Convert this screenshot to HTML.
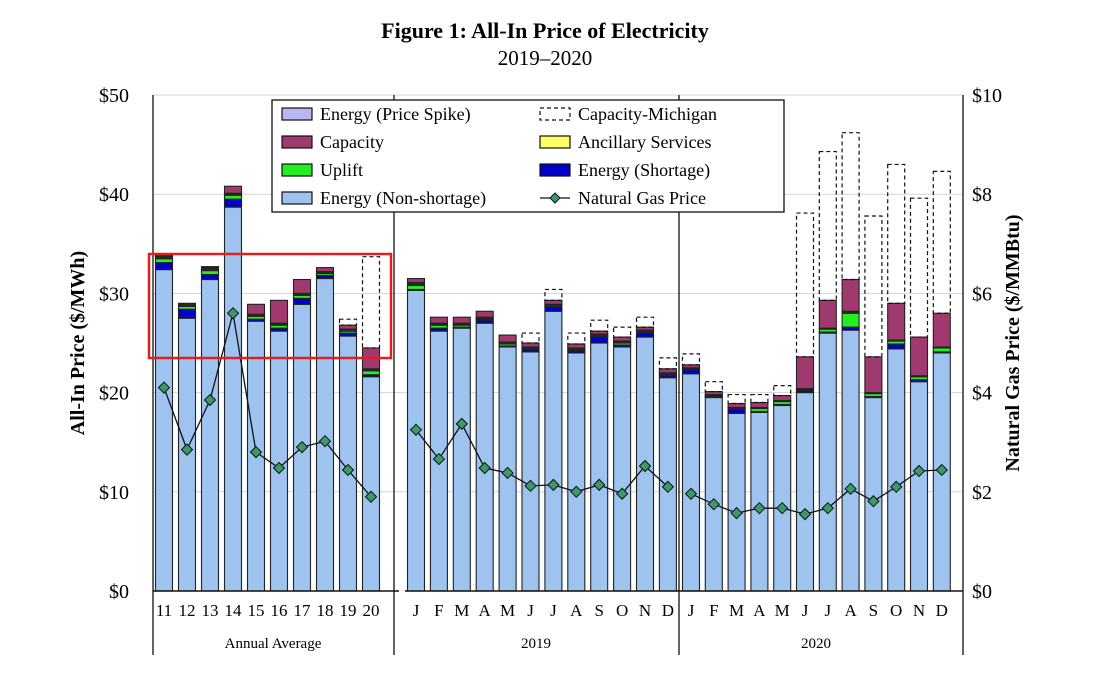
<!DOCTYPE html>
<html><head><meta charset="utf-8"><style>
body{margin:0;background:#fff;}
svg{display:block;font-family:"Liberation Serif",serif;}
</style></head><body>
<svg id="chart" width="1110" height="683" viewBox="0 0 1110 683">
<text x="545" y="38" text-anchor="middle" font-size="22" font-weight="bold">Figure 1: All-In Price of Electricity</text>
<text x="545" y="65" text-anchor="middle" font-size="21">2019–2020</text>
<g id="grid"></g><g id="bars"></g><g id="gas"></g><g id="axes"></g>
</svg>
<script>
const categories=["11","12","13","14","15","16","17","18","19","20","J","F","M","A","M","J","J","A","S","O","N","D","J","F","M","A","M","J","J","A","S","O","N","D"];
const energy=[32.4,27.5,31.4,38.7,27.2,26.2,28.9,31.5,25.7,21.6, 30.3,26.2,26.5,27.0,24.6,24.1,28.2,24.0,25.0,24.6,25.6,21.5, 21.9,19.5,17.9,18.0,18.7,20.0,26.0,26.3,19.5,24.4,21.1,24.0];
const shortage=[0.7,0.9,0.5,0.8,0.2,0.3,0.6,0.3,0.3,0.2, 0.1,0.3,0.1,0.3,0.1,0.2,0.4,0.2,0.6,0.2,0.4,0.2, 0.4,0.1,0.4,0.1,0.1,0.2,0.1,0.3,0.1,0.5,0.2,0.1];
const uplift=[0.4,0.3,0.4,0.4,0.3,0.3,0.3,0.2,0.2,0.4, 0.4,0.3,0.2,0.1,0.2,0.1,0.1,0.1,0.1,0.2,0.1,0.1, 0.1,0.1,0.1,0.3,0.3,0.1,0.3,1.4,0.3,0.3,0.3,0.4];
const ancillary=[0.3,0.3,0.3,0.2,0.2,0.2,0.2,0.2,0.2,0.2, 0.3,0.2,0.2,0.2,0.2,0.2,0.2,0.2,0.2,0.2,0.2,0.2, 0.1,0.1,0.1,0.1,0.1,0.1,0.1,0.2,0.1,0.1,0.1,0.1];
const capacity=[0.2,0.0,0.1,0.7,1.0,2.3,1.4,0.4,0.4,2.1, 0.4,0.6,0.6,0.6,0.7,0.4,0.4,0.4,0.3,0.4,0.3,0.4, 0.3,0.3,0.4,0.5,0.5,3.2,2.8,3.2,3.6,3.7,3.9,3.4];
const michigan=[0,0,0,0,0,0,0,0,0.6,9.2, 0,0,0,0,0,1.0,1.1,1.1,1.1,1.0,1.0,1.1, 1.1,1.0,0.9,0.8,1.0,14.5,15.0,14.8,14.2,14.0,14.0,14.3];
const gasPrice=[4.1,2.85,3.85,5.6,2.8,2.48,2.9,3.02,2.44,1.9, 3.25,2.66,3.37,2.48,2.38,2.12,2.14,2.0,2.14,1.96,2.52,2.1, 1.96,1.75,1.57,1.67,1.67,1.55,1.67,2.06,1.81,2.1,2.42,2.44];
const leftTicks=["$0","$10","$20","$30","$40","$50"];
const rightTicks=["$0","$2","$4","$6","$8","$10"];
const groupLabels=["Annual Average","2019","2020"];

const NS="http://www.w3.org/2000/svg";
const svg=document.getElementById('chart');
const X0=153,X1=963,Y0=591,Y1=95;
function yL(v){return Y0-(v/50)*(Y0-Y1);}
function yR(v){return Y0-(v/10)*(Y0-Y1);}
function xC(i){if(i<10)return 164+i*23;if(i<22)return 416+(i-10)*22.9;return 691+(i-22)*22.8;}
function mk(tag,attrs,parent){const e=document.createElementNS(NS,tag);for(const k in attrs)e.setAttribute(k,attrs[k]);(parent||svg).appendChild(e);return e;}
const G=document.getElementById('grid'),B=document.getElementById('bars'),GS=document.getElementById('gas'),A=document.getElementById('axes');
for(let k=1;k<=5;k++){const l=mk('line',{x1:X0,x2:X1,y1:yL(k*10),y2:yL(k*10),stroke:'#d4d4d4','stroke-width':1},G);

}
const layers=[[energy,'#9dc3ee','energy-bar'],[shortage,'#0000c8','shortage-bar'],[uplift,'#22ee22','uplift-bar'],[ancillary,'#2a2a1a','ancillary-bar'],[capacity,'#a03a6e','capacity-bar']];
const W=17;
categories.forEach((c,i)=>{
  let base=0;const x=xC(i)-W/2;
  layers.forEach(([arr,col,nm])=>{const v=arr[i];if(v<=0)return;
    const r=mk('rect',{x:x,y:yL(base+v),width:W,height:yL(base)-yL(base+v),fill:col,stroke:'#222','stroke-width':1.1},B);
    
    
    base+=v;});
  if(michigan[i]>0){const r=mk('rect',{x:x,y:yL(base+michigan[i]),width:W,height:yL(base)-yL(base+michigan[i]),fill:'none',stroke:'#111','stroke-width':1.2,'stroke-dasharray':'4 3'},B);
    
    }
  const t=mk('text',{x:xC(i),y:616,'text-anchor':'middle','font-size':17},A);t.textContent=c;
  
  
});
[[0,10],[10,22],[22,34]].forEach(([s,e])=>{
  let d='';for(let i=s;i<e;i++)d+=(i==s?'M':'L')+xC(i)+' '+yR(gasPrice[i]);
  const p=mk('path',{d:d,fill:'none',stroke:'#111','stroke-width':1.3},GS);
  
  
});
gasPrice.forEach((g,i)=>{const x=xC(i),y=yR(g);
  const p=mk('polygon',{points:`${x},${y-5.5} ${x+5.5},${y} ${x},${y+5.5} ${x-5.5},${y}`,fill:'#3a9a6a',stroke:'#111','stroke-width':1},GS);
  
  });
mk('line',{x1:X0,x2:X0,y1:Y1,y2:655,stroke:'#111','stroke-width':1.3},A);
mk('line',{x1:X1,x2:X1,y1:Y1,y2:655,stroke:'#111','stroke-width':1.3},A);
mk('line',{x1:394,x2:394,y1:Y1,y2:655,stroke:'#111','stroke-width':1.3},A);
mk('line',{x1:679,x2:679,y1:Y1,y2:655,stroke:'#111','stroke-width':1.3},A);
mk('line',{x1:X0,x2:399,y1:Y0,y2:Y0,stroke:'#111','stroke-width':1.5},A);
mk('line',{x1:405,x2:X1,y1:Y0,y2:Y0,stroke:'#111','stroke-width':1.5},A);
leftTicks.forEach((t,k)=>{const e=mk('text',{x:129,y:yL(k*10)+7,'text-anchor':'end','font-size':20},A);e.textContent=t;
  
  });
rightTicks.forEach((t,k)=>{const e=mk('text',{x:972,y:yR(k*2)+7,'font-size':20},A);e.textContent=t;
  
  });
[[273],[536],[816]].forEach(([x],k)=>{const e=mk('text',{x:x,y:648,'text-anchor':'middle','font-size':15},A);e.textContent=groupLabels[k];
  
  });
let t1=mk('text',{transform:'translate(84,343) rotate(-90)','text-anchor':'middle','font-size':20,'font-weight':'bold'},A);t1.textContent='All-In Price ($/MWh)';


let t2=mk('text',{transform:'translate(1019,343) rotate(-90)','text-anchor':'middle','font-size':20,'font-weight':'bold'},A);t2.textContent='Natural Gas Price ($/MMBtu)';


const L=mk('g',{},A);


mk('rect',{x:272,y:100,width:512,height:112,fill:'#fff',stroke:'#111','stroke-width':1.3},L);
const items=[['Energy (Price Spike)','#b8b8f0','rect',282,114],['Capacity','#a03a6e','rect',282,142],['Uplift','#22ee22','rect',282,170],['Energy (Non-shortage)','#9dc3ee','rect',282,198],
['Capacity-Michigan','none','dash',540,114],['Ancillary Services','#ffff66','rect',540,142],['Energy (Shortage)','#0000c8','rect',540,170],['Natural Gas Price','','gas',540,198]];
items.forEach(([lab,col,type,x,y])=>{
  if(type=='gas'){mk('line',{x1:x,x2:x+30,y1:y,y2:y,stroke:'#111','stroke-width':1.3},L);
    mk('polygon',{points:`${x+15},${y-5} ${x+20},${y} ${x+15},${y+5} ${x+10},${y}`,fill:'#3a9a6a',stroke:'#111'},L);}
  else mk('rect',{x:x,y:y-6,width:30,height:12,fill:col,stroke:'#111','stroke-width':1.2,'stroke-dasharray':type=='dash'?'4 3':'none'},L);
  const e=mk('text',{x:x+38,y:y+6,'font-size':18},L);e.textContent=lab;
  
  
});
const hb=mk('rect',{x:149,y:254,width:242,height:104,fill:'none',stroke:'#e02020','stroke-width':2.5},A);


</script>
</body></html>
